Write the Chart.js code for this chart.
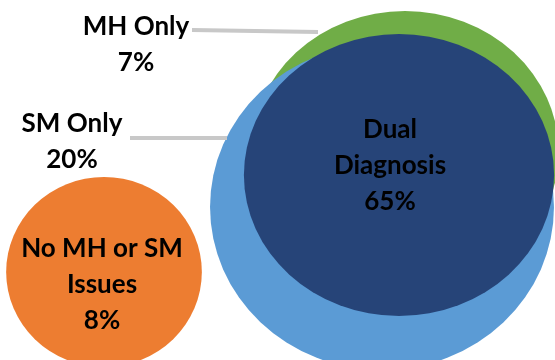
<!DOCTYPE html>
<html>
<head>
<meta charset="utf-8">
<title>Diagnosis overlap</title>
<script src="https://cdn.jsdelivr.net/npm/chart.js@4.4.1/dist/chart.umd.min.js"></script>
<style>
  html, body { margin: 0; padding: 0; background: #ffffff; }
  #wrap { width: 555px; height: 360px; }
</style>
</head>
<body>
<div id="wrap"><canvas id="overlapChart" width="555" height="360"></canvas></div>
<script>
// Groups and their shares
const groups = ['MH Only', 'SM Only', 'Dual Diagnosis', 'No MH or SM Issues'];
const groupLines = [['MH Only'], ['SM Only'], ['Dual', 'Diagnosis'], ['No MH or SM', 'Issues']];
const shares = [7, 20, 65, 8];

// Bubble centres and radii (chart units)
const bubbleX = [405, 382, 399, 104];
const bubbleY = [152, 207, 175, 272];
const bubbleR = [141, 163, 141, 95];

// Leader lines for the two outside labels
const leaderMH = [{ x: 192, y: 30 }, { x: 318, y: 32 }];
const leaderSM = [{ x: 130, y: 138 }, { x: 227, y: 138 }];

const colors = ['#70ad47', '#5b9bd5', '#264478', '#ed7d31'];
// horizontal stretch of each bubble (shapes are slightly wider than tall)
const stretch = [1.09, 1.055, 1.10, 1.03];
// draw order: dual on top, then SM, MH, none
const drawOrder = [2, 1, 0, 3];
// text anchor: centre x and first baseline
const labelPos = [
    { x: 136, y: 35 },
    { x: 72, y: 132 },
    { x: 390, y: 138 },
    { x: 102, y: 257 }
];
const lineHeight = 36;

// Scales the context around each bubble so it is drawn as an ellipse
const ellipsePlugin = {
    id: 'ellipse',
    beforeDatasetDraw(chart, args) {
        const ds = chart.data.datasets[args.index];
        if (!ds.stretchX) return;
        const pt = args.meta.data[0];
        const ctx = chart.ctx;
        ctx.save();
        ctx.translate(pt.x, pt.y);
        ctx.scale(ds.stretchX, 1);
        ctx.translate(-pt.x, -pt.y);
    },
    afterDatasetDraw(chart, args) {
        if (chart.data.datasets[args.index].stretchX) chart.ctx.restore();
    }
};

// Group names with percentages
const labelPlugin = {
    id: 'groupLabels',
    afterDatasetsDraw(chart) {
        const ctx = chart.ctx;
        const xs = chart.scales.x, ys = chart.scales.y;
        ctx.save();
        ctx.font = 'bold 26px Lato';
        ctx.fillStyle = '#000000';
        ctx.textAlign = 'center';
        ctx.textBaseline = 'alphabetic';
        groups.forEach((g, i) => {
            const lines = groupLines[i].concat([shares[i] + '%']);
            const px = xs.getPixelForValue(labelPos[i].x);
            const py = ys.getPixelForValue(labelPos[i].y);
            lines.forEach((t, j) => ctx.fillText(t, px, py + j * lineHeight));
        });
        ctx.restore();
    }
};

const bubbleSets = groups.map((g, i) => ({
    type: 'bubble',
    label: g,
    data: [{ x: bubbleX[i], y: bubbleY[i], r: bubbleR[i] }],
    backgroundColor: colors[i],
    borderWidth: 0,
    hoverBorderWidth: 0,
    stretchX: stretch[i],
    order: drawOrder[i],
    clip: false
}));

const leaderSets = [leaderMH, leaderSM].map((pts, i) => ({
    type: 'line',
    label: 'leader' + i,
    data: pts,
    borderColor: '#c8c8c8',
    borderWidth: 4,
    pointRadius: 0,
    fill: false,
    order: -1,
    clip: false
}));

new Chart(document.getElementById('overlapChart').getContext('2d'), {
    type: 'bubble',
    data: { datasets: bubbleSets.concat(leaderSets) },
    options: {
        responsive: false,
        animation: false,
        events: [],
        layout: { padding: 0, autoPadding: false },
        plugins: {
            legend: { display: false },
            tooltip: { enabled: false }
        },
        scales: {
            x: { type: 'linear', min: 0, max: 555, display: false },
            y: { type: 'linear', min: 0, max: 360, reverse: true, display: false }
        }
    },
    plugins: [ellipsePlugin, labelPlugin]
});
</script>
</body>
</html>
